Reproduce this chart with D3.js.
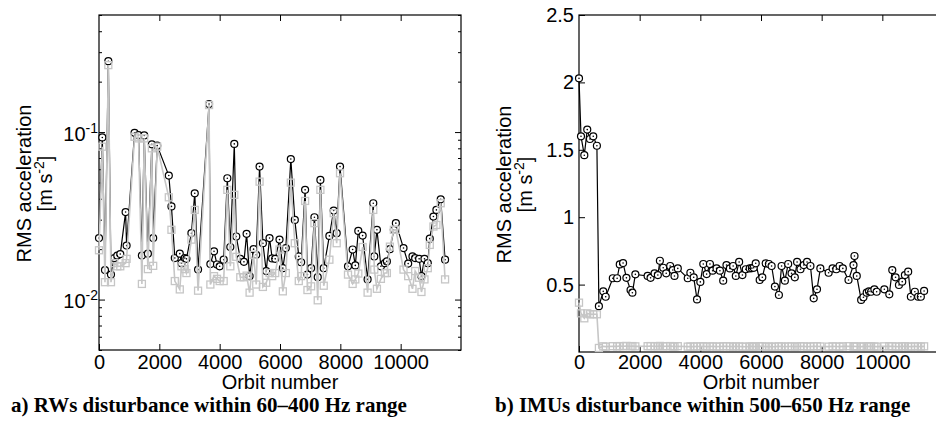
<!DOCTYPE html>
<html>
<head>
<meta charset="utf-8">
<script src="https://cdn.jsdelivr.net/npm/d3@7"></script>
<style>
  body { margin: 0; background: #fff; }
  svg { display: block; font-family: "Liberation Sans", Arial, Helvetica, sans-serif; }
</style>
</head>
<body>
<svg id="chart"></svg>
<script>
// a) RWs disturbance, 60-400 Hz (log scale)
const rwOrbit = [0,110,198,309,397,507,606,705,882,915,
	1179,1311,1422,1499,1620,1752,1796,1929,2314,2402,
	2513,2678,2733,2843,2898,3064,3174,3284,3648,3692,
	3813,3912,4000,4133,4254,4353,4485,4551,4684,4805,
	4893,4992,5124,5212,5323,5433,5543,5653,5741,5841,
	5984,6094,6193,6359,6491,6623,6700,6832,6910,7031,
	7141,7251,7339,7450,7637,7780,7879,7990,8254,8408,
	8497,8596,8739,8904,9092,9125,9213,9345,9477,9543,
	9643,9775,9841,10094,10249,10392,10480,10612,10689,10789,
	10899,10965,11086,11185,11328,11472];
const rwBlack = [0.0233,0.0929,0.0150,0.265,0.0141,0.0177,0.0183,0.0187,0.0333,0.0210,
	0.099,0.096,0.0183,0.0955,0.0188,0.0845,0.0233,0.083,0.0550,0.0360,
	0.0177,0.0188,0.0165,0.0177,0.0175,0.0249,0.0431,0.0151,0.147,0.0163,
	0.0194,0.0162,0.0158,0.0173,0.053,0.0206,0.085,0.0238,0.0175,0.0168,
	0.0247,0.0138,0.0200,0.0185,0.0622,0.0217,0.0148,0.0233,0.0176,0.0175,
	0.0228,0.0154,0.0203,0.069,0.0299,0.0181,0.0167,0.0452,0.0141,0.0154,
	0.0310,0.0136,0.0518,0.0154,0.0240,0.0340,0.0249,0.0622,0.0158,0.0199,
	0.0160,0.0257,0.0241,0.0132,0.0376,0.0181,0.0261,0.0158,0.0165,0.0169,
	0.0200,0.0261,0.0286,0.0203,0.0164,0.0181,0.0177,0.0175,0.0138,0.0175,
	0.0165,0.0231,0.0313,0.0343,0.0397,0.0173];
const rwGray = [0.0197,0.0818,0.0127,0.251,0.0127,0.0165,0.0158,0.0158,0.0165,0.0175,
	0.0938,0.0917,0.0124,0.0917,0.0152,0.080,0.0159,0.0818,0.0408,0.0261,
	0.0129,0.0115,0.0158,0.0152,0.0144,0.0228,0.0343,0.0113,0.145,0.0123,
	0.0138,0.0133,0.0129,0.0129,0.0452,0.0158,0.0422,0.0180,0.0136,0.0136,
	0.0139,0.0110,0.0185,0.0123,0.0506,0.0119,0.0126,0.0144,0.0138,0.0144,
	0.0199,0.0112,0.0144,0.0499,0.0217,0.0129,0.0138,0.0388,0.0114,0.0120,
	0.0286,0.0099,0.0452,0.0121,0.0173,0.0328,0.0217,0.0568,0.0141,0.0124,
	0.0132,0.0143,0.0206,0.0110,0.0343,0.0151,0.0116,0.0133,0.0144,0.0144,
	0.0207,0.0261,0.0261,0.0151,0.0138,0.0116,0.0148,0.0135,0.0111,0.0132,
	0.0154,0.0212,0.0273,0.0279,0.0376,0.0132];

// b) IMUs disturbance, 500-650 Hz (linear scale)
const imuOrbit = [0,66,175,272,360,470,590,656,800,880,
	1115,1257,1344,1453,1563,1700,1760,1858,2262,2360,
	2492,2600,2667,2776,2875,3006,3093,3148,3257,3585,
	3672,3781,3891,4000,4098,4208,4317,4404,4535,4646,
	4754,4862,4974,5082,5170,5279,5387,5498,5629,5700,
	5760,5826,5957,6043,6154,6262,6350,6459,6590,6679,
	6787,6896,7007,7115,7190,7302,7410,7518,7630,7738,
	7846,7957,8230,8360,8482,8590,8698,8885,9049,9082,
	9157,9302,9377,9485,9560,9630,9738,9813,10066,10230,
	10328,10436,10548,10656,10744,10852,10941,11072,11180,11269,
	11377];
const imuBlack = [2.03,1.60,1.46,1.65,1.58,1.60,1.53,0.34,0.45,0.41,
	0.547,0.547,0.65,0.66,0.55,0.46,0.44,0.576,0.564,0.55,
	0.584,0.571,0.677,0.625,0.584,0.638,0.608,0.564,0.62,0.547,
	0.588,0.554,0.39,0.52,0.653,0.578,0.653,0.603,0.62,0.603,
	0.529,0.645,0.62,0.638,0.564,0.668,0.571,0.614,0.62,0.622,
	0.625,0.658,0.534,0.554,0.658,0.653,0.638,0.485,0.423,0.638,
	0.529,0.653,0.584,0.554,0.668,0.614,0.645,0.668,0.638,0.398,
	0.465,0.62,0.588,0.62,0.614,0.638,0.62,0.534,0.645,0.712,
	0.564,0.386,0.406,0.44,0.45,0.447,0.465,0.447,0.465,0.428,
	0.608,0.554,0.497,0.522,0.571,0.596,0.41,0.447,0.41,0.41,
	0.453];
const imuGray = [0.366,0.287,0.25,0.287,0.28,0.28,0.28,0.03,0.042,0.04,
	0.043,0.042,0.044,0.043,0.045,0.043,0.044,0.042,0.043,0.044,
	0.042,0.043,0.045,0.042,0.043,0.044,0.042,0.041,0.043,0.040,
	0.041,0.040,0.042,0.041,0.043,0.040,0.041,0.042,0.040,0.041,
	0.042,0.043,0.041,0.040,0.042,0.041,0.040,0.039,0.041,0.042,
	0.040,0.041,0.043,0.042,0.040,0.041,0.039,0.040,0.042,0.041,
	0.040,0.041,0.042,0.040,0.041,0.043,0.042,0.040,0.041,0.042,
	0.043,0.041,0.040,0.042,0.041,0.040,0.042,0.043,0.041,0.042,
	0.041,0.040,0.042,0.041,0.043,0.042,0.041,0.040,0.042,0.043,
	0.042,0.041,0.040,0.042,0.043,0.041,0.040,0.042,0.041,0.040,
	0.042];

const xTicks = [0, 2000, 4000, 6000, 8000, 10000];
const rwMajor = [0.01, 0.1];
const rwMinor = [0.005,0.006,0.007,0.008,0.009,0.02,0.03,0.04,0.05,0.06,0.07,0.08,0.09,0.2,0.3,0.4,0.5];
const imuTicks = [0.5, 1, 1.5, 2, 2.5];

const GRAY = "#c6c6c6";
const FONT = 20;

const svg = d3.select("#chart")
              .attr("width", 936)
              .attr("height", 425);

// 패널 하나 그리기
function panel(box, y, yTicks, yFormat, yMinor, orbit, black, gray, caption) {
	const x = d3.scaleLinear().domain([0, 12000]).range([box.left, box.right]);
	y.range([box.bottom, box.top]);
	const g = svg.append("g");

	// 안쪽으로 향하는 눈금 (라벨 높이는 두 패널 동일)
	g.append("g")
	 .attr("transform", `translate(0, ${box.bottom})`)
	 .call(d3.axisBottom(x).tickValues(xTicks).tickSize(-6).tickSizeOuter(0).tickPadding(355 - box.bottom).tickFormat(d3.format("d")))
	 .call(a => a.select(".domain").remove())
	 .call(a => a.selectAll("text").attr("font-size", FONT).attr("font-family", null).attr("fill", "#000"));
	g.append("g")
	 .attr("transform", `translate(0, ${box.top})`)
	 .call(d3.axisTop(x).tickValues(xTicks.slice(1)).tickSize(-6).tickSizeOuter(0).tickFormat(""))
	 .call(a => a.select(".domain").remove());

	const yAxis = g.append("g")
	               .attr("transform", `translate(${box.left}, 0)`)
	               .call(d3.axisLeft(y).tickValues(yTicks).tickSize(-6).tickSizeOuter(0).tickPadding(yFormat ? 5 : 1).tickFormat(yFormat))
	               .call(a => a.select(".domain").remove())
	               .call(a => a.selectAll("text").attr("font-size", FONT).attr("font-family", null).attr("fill", "#000"));
	if (!yFormat) {
		// 10^n 형식의 라벨
		yAxis.selectAll(".tick text")
		     .text(null)
		     .attr("dy", "0.4em")
		     .each(function(d) {
		         const t = d3.select(this);
		         t.append("tspan").text("10");
		         t.append("tspan").attr("dy", -8).attr("font-size", 14).text(Math.round(Math.log10(d)));
		     });
	}
	g.append("g")
	 .attr("transform", `translate(${box.right}, 0)`)
	 .call(d3.axisRight(y).tickValues(yTicks).tickSize(-6).tickSizeOuter(0).tickFormat(""))
	 .call(a => a.select(".domain").remove());
	if (yMinor) {
		g.append("g")
		 .attr("transform", `translate(${box.left}, 0)`)
		 .call(d3.axisLeft(y).tickValues(yMinor).tickSize(-3).tickSizeOuter(0).tickFormat(""))
		 .call(a => a.select(".domain").remove());
		g.append("g")
		 .attr("transform", `translate(${box.right}, 0)`)
		 .call(d3.axisRight(y).tickValues(yMinor).tickSize(-3).tickSizeOuter(0).tickFormat(""))
		 .call(a => a.select(".domain").remove());
	}

	// 테두리
	g.append("rect")
	 .attr("x", box.left).attr("y", box.top)
	 .attr("width", box.right - box.left).attr("height", box.bottom - box.top)
	 .attr("fill", "none").attr("stroke", "#000").attr("stroke-width", 1.2);

	const line = d3.line().x(d => x(d[0])).y(d => y(d[1]));
	const pb = orbit.map((o, i) => [o, black[i]]);
	const pg = orbit.map((o, i) => [o, gray[i]]);

	// 검은 선 + 원
	g.append("path").attr("d", line(pb)).attr("fill", "none").attr("stroke", "#000").attr("stroke-width", 1.2);
	g.append("g").selectAll("circle").data(pb).join("circle")
	 .attr("cx", d => x(d[0])).attr("cy", d => y(d[1])).attr("r", 3.5)
	 .attr("fill", "#fff").attr("stroke", "#000").attr("stroke-width", 1.2);
	g.append("g").selectAll("circle").data(pb).join("circle")
	 .attr("cx", d => x(d[0])).attr("cy", d => y(d[1])).attr("r", 0.8).attr("fill", "#000");

	// 회색 선 + 사각형
	g.append("path").attr("d", line(pg)).attr("fill", "none").attr("stroke", GRAY).attr("stroke-width", 1.6);
	g.append("g").selectAll("rect").data(pg).join("rect")
	 .attr("x", d => x(d[0]) - 3.5).attr("y", d => y(d[1]) - 3.5).attr("width", 7).attr("height", 7)
	 .attr("fill", "none").attr("stroke", GRAY).attr("stroke-width", 1.3);

	// 축 제목
	const cx = (box.left + box.right) / 2;
	const cy = (box.top + box.bottom) / 2;
	g.append("text").attr("x", cx).attr("y", 389).attr("text-anchor", "middle").attr("font-size", FONT).text("Orbit number");
	g.append("text").attr("transform", `translate(${box.left - 68}, ${cy + 1}) rotate(-90)`)
	 .attr("text-anchor", "middle").attr("font-size", FONT).text("RMS acceleration");
	const u = g.append("text").attr("transform", `translate(${box.left - 47}, ${cy + 1}) rotate(-90)`)
	           .attr("text-anchor", "middle").attr("font-size", FONT);
	u.append("tspan").text("[m s");
	u.append("tspan").attr("dy", -8).attr("font-size", 14).text("-2");
	u.append("tspan").attr("dy", 8).text("]");

	// 캡션
	svg.append("text").attr("x", box.left - caption.dx).attr("y", 412)
	   .attr("font-family", "'Liberation Serif', 'Times New Roman', serif").attr("font-weight", "bold")
	   .attr("font-size", 21).text(caption.text);
}

panel({ left: 99, right: 461, top: 15, bottom: 350 }, d3.scaleLog().domain([0.005, 0.5]), rwMajor, null, rwMinor,
      rwOrbit, rwBlack, rwGray, { dx: 88, text: "a) RWs disturbance within 60\u2013400 Hz range" });
panel({ left: 579, right: 943, top: 15, bottom: 352 }, d3.scaleLinear().domain([0, 2.5]), imuTicks, d3.format("~g"), null,
      imuOrbit, imuBlack, imuGray, { dx: 84, text: "b) IMUs disturbance within 500\u2013650 Hz range" });
</script>
</body>
</html>
